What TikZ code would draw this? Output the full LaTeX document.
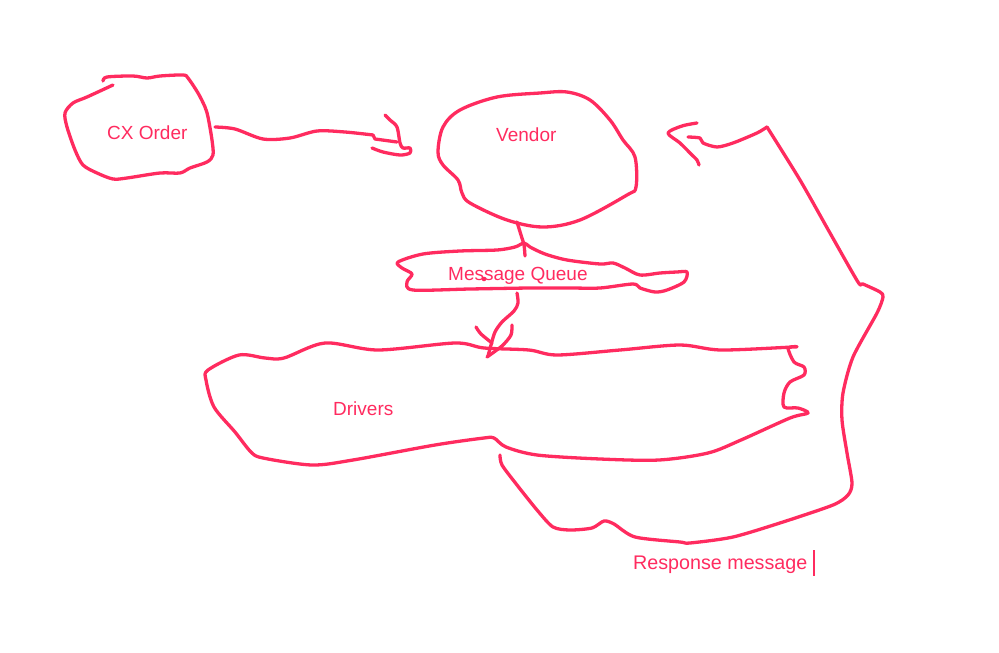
\documentclass[tikz,border=0pt]{standalone}
\usepackage{fontspec}
\setmainfont{Liberation Sans}
\definecolor{ink}{RGB}{255,43,95}
\tikzset{
  pen/.style={draw=ink, line width=3.3pt, line cap=round, line join=round},
  lbl/.style={text=ink, inner sep=0pt, anchor=base west, font=\fontsize{19}{23}\selectfont},
}
\begin{document}
\begin{tikzpicture}[x=1pt,y=-1pt]
\useasboundingbox (0,0) rectangle (999,653);
% labels
\node[lbl] (cx) at (107,139) {CX Order};
\node[lbl] (vendor) at (496,141) {Vendor};
\node[lbl] (mq) at (448,280) {Message Queue};
\node[lbl] (drivers) at (333,415) {Drivers};
\node[lbl, font=\fontsize{19.7}{23}\selectfont] (resp) at (633,569) {Response message};
\draw[draw=ink, line width=1.6pt] (814,550) -- (814,576);
% CX Order blob
\draw[pen] plot[smooth, tension=0.5] coordinates {(103,81) (107,77) (133,76) (147,78) (160,76) (183,75) (188,78) (198,93) (205,107) (208,117) (212,140) (213,155) (207,162) (190,168) (180,173) (160,173) (127,178) (113,179) (97,173) (83,165) (75,150) (67,127) (65,113) (73,103) (87,97) (113,85)};
% CX -> Vendor arrow
\draw[pen] plot[smooth, tension=0.5] coordinates {(215,127) (235,129) (263,139) (290,138) (317,131) (345,132) (373,135)};
\draw[pen] (373,135) -- (375,139) -- (397,142);
\draw[pen] plot[smooth, tension=0.5] coordinates {(385,115) (390,120) (397,127) (400,143) (403,148) (410,148) (410,153) (400,155) (383,152) (372,148)};
% Vendor blob
\draw[pen] plot[smooth cycle, tension=0.55] coordinates {(567,92) (590,100) (610,120) (623,140) (635,157) (636,187) (627,195) (580,220) (543,227) (507,220) (470,203) (462,193) (458,180) (443,165) (438,152) (443,127) (460,110) (497,97) (540,93)};
% Vendor -> MQ
\draw[pen] plot[smooth, tension=0.5] coordinates {(517,222) (521,235) (524,245) (525,256)};
% Message Queue blob
\draw[pen] plot[smooth cycle, tension=0.5] coordinates {(398,262) (423,254) (460,251) (497,250) (515,247) (524,243) (530,247) (545,254) (567,260) (600,264) (613,263) (625,268) (640,275) (660,273) (677,272) (687,272) (684,282) (667,290) (655,292) (640,288) (633,284) (600,288) (570,288) (530,288) (470,289) (413,290) (407,282) (412,274) (402,268)};
\fill[ink] (484,279) circle (2.3);
% MQ -> Drivers arrow
\draw[pen] plot[smooth, tension=0.5] coordinates {(517,293) (518,303) (514,311) (502,322) (495,332) (491,345) (488,356)};
\draw[pen] plot[smooth, tension=0.5] coordinates {(476,327) (481,334) (492,343)};
\draw[pen] plot[smooth, tension=0.5] coordinates {(512,325) (511,335) (503,345) (494,352) (487,357)};
% Drivers blob
\draw[pen] plot[smooth cycle, tension=0.5] coordinates {(208,370) (239,355) (265,358) (284,358) (325,343) (378,350) (455,343) (484,348) (529,350) (557,355) (620,350) (680,345) (721,350) (794,347) (788,348) (794,362) (804,367) (804,375) (790,382) (784,393) (784,407) (798,408) (808,413) (790,418) (741,440) (708,453) (659,460) (600,459) (537,455) (506,447) (494,438) (484,438) (435,445) (353,460) (312,465) (263,458) (251,452) (235,432) (214,407) (206,380)};
% Response loop
\draw[pen] plot[smooth, tension=0.45] coordinates {(500,455) (502,465) (517,485) (537,510) (553,527) (570,530) (592,528) (604,521) (614,524) (635,537) (680,542) (690,543) (733,537) (783,522) (833,505) (848,495) (852,483) (847,453) (842,420) (843,393) (853,357) (877,313) (883,297) (880,292) (863,284) (858,282) (830,233) (800,180) (767,127)};
\draw[pen] plot[smooth, tension=0.45] coordinates {(767,127) (757,133) (733,143) (717,147) (703,143) (700,138) (688,137)};
\draw[pen] plot[smooth, tension=0.5] coordinates {(697,123) (682,126) (668,133) (680,143) (692,155) (697,160) (699,165)};
\end{tikzpicture}
\end{document}
